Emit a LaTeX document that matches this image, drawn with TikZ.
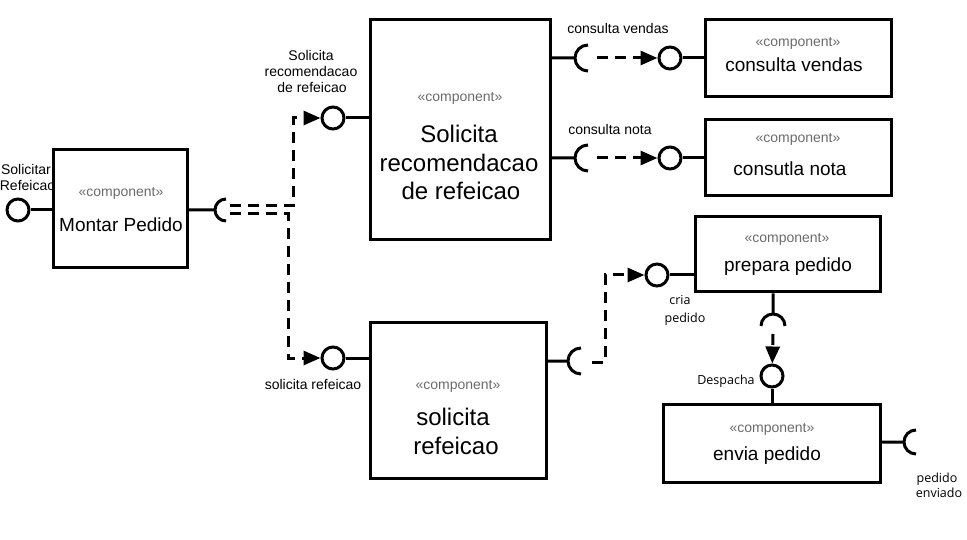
\documentclass[tikz,border=0pt]{standalone}
\usepackage{fontspec}
\setmainfont{Liberation Sans}
\newfontfamily\opensans{Open Sans}
\usetikzlibrary{arrows.meta}
\newlength{\du}
\setlength{\du}{1pt}
\definecolor{dialinecolor}{rgb}{0.000000, 0.000000, 0.000000}
\definecolor{stereocolor}{rgb}{0.420000, 0.420000, 0.420000}

\begin{document}
\begin{tikzpicture}[
  compbox/.style={draw=dialinecolor, line width=3pt, inner sep=0pt},
  lolly/.style={draw=dialinecolor, circle, line width=3pt, minimum size=22pt, inner sep=0pt},
  iface/.style={draw=dialinecolor, line width=3pt},
  dep/.style={draw=dialinecolor, line width=3pt, dash pattern=on 11pt off 7pt,
    -{Triangle[length=17pt,width=14pt]}},
  stereo/.style={anchor=base, text=stereocolor, font=\fontsize{14pt}{16pt}\selectfont},
  cname/.style={anchor=base, font=\fontsize{19pt}{22pt}\selectfont},
  bigname/.style={anchor=base, font=\fontsize{24pt}{28pt}\selectfont},
  lbl/.style={anchor=base, font=\fontsize{14pt}{16pt}\selectfont},
  olbl/.style={anchor=base, font=\opensans\fontsize{12.5pt}{15pt}\selectfont}
]
\pgftransformxscale{1.000000}
\pgftransformyscale{-1.000000}
\useasboundingbox (0\du,0\du) rectangle (967\du,540\du);
% components
\node[compbox, minimum width=134pt, minimum height=118pt] (montar) at (120\du,209\du) {};
\node[compbox, minimum width=180pt, minimum height=220pt] (recom) at (460\du,130\du) {};
\node[compbox, minimum width=186pt, minimum height=77pt] (vendas) at (798\du,58.5\du) {};
\node[compbox, minimum width=186pt, minimum height=76pt] (nota) at (798\du,158\du) {};
\node[compbox, minimum width=185pt, minimum height=75pt] (prepara) at (787.5\du,254.5\du) {};
\node[compbox, minimum width=176pt, minimum height=156pt] (solref) at (458\du,400\du) {};
\node[compbox, minimum width=217pt, minimum height=78pt] (envia) at (771.5\du,443\du) {};
% texts in components
\node[stereo] (montarSt) at (121\du,197\du) {«component»};
\node[cname] (montarName) at (121\du,232\du) {Montar Pedido};
\node[stereo] (recomSt) at (460\du,102\du) {«component»};
\node[bigname] (recomNameA) at (459\du,143\du) {Solicita};
\node[bigname] (recomNameB) at (459\du,172\du) {recomendacao};
\node[bigname] (recomNameC) at (461\du,200\du) {de refeicao};
\node[stereo] (vendasSt) at (798\du,47\du) {«component»};
\node[cname] (vendasName) at (794\du,72\du) {consulta vendas};
\node[stereo] (notaSt) at (798\du,143\du) {«component»};
\node[cname] (notaName) at (790\du,176\du) {consutla nota};
\node[stereo] (preparaSt) at (787\du,243\du) {«component»};
\node[cname] (preparaName) at (788\du,272\du) {prepara pedido};
\node[stereo] (solrefSt) at (458\du,389\du) {«component»};
\node[bigname] (solrefNameA) at (453\du,425\du) {solicita};
\node[bigname] (solrefNameB) at (456\du,454\du) {refeicao};
\node[stereo] (enviaSt) at (772\du,432\du) {«component»};
\node[cname] (enviaName) at (767\du,460\du) {envia pedido};
% provided interfaces
\node[lolly] (lolMontar) at (18\du,210\du) {};
\node[lolly] (lolRecom) at (333\du,118\du) {};
\node[lolly] (lolSolref) at (333\du,358\du) {};
\node[lolly] (lolVendas) at (670\du,58\du) {};
\node[lolly] (lolNota) at (670\du,158\du) {};
\node[lolly] (lolPrepara) at (657\du,275\du) {};
\node[lolly] (lolEnvia) at (772\du,376\du) {};
\draw[iface] (lolMontar) -- (lolMontar -| montar.west);
\draw[iface] (lolRecom) -- (lolRecom -| recom.west);
\draw[iface] (lolSolref) -- (lolSolref -| solref.west);
\draw[iface] (lolVendas) -- (lolVendas -| vendas.west);
\draw[iface] (lolNota) -- (lolNota -| nota.west);
\draw[iface] (lolPrepara) -- (lolPrepara -| prepara.west);
\draw[iface] (lolEnvia) -- (lolEnvia |- envia.north);
% required interfaces
\coordinate (sockMontar) at (215\du,210\du);
\coordinate (sockVendas) at (575\du,58\du);
\coordinate (sockNota) at (575\du,158\du);
\coordinate (sockSolref) at (568\du,361\du);
\coordinate (sockPrepara) at (773\du,314\du);
\coordinate (sockEnvia) at (904\du,442\du);
\draw[iface] (montar.east |- sockMontar) -- (sockMontar) ++(11\du,11\du) arc[start angle=90,end angle=270,radius=11\du];
\draw[iface] (recom.east |- sockVendas) -- (sockVendas) ++(13\du,13\du) arc[start angle=90,end angle=270,radius=13\du];
\draw[iface] (recom.east |- sockNota) -- (sockNota) ++(13\du,13\du) arc[start angle=90,end angle=270,radius=13\du];
\draw[iface] (solref.east |- sockSolref) -- (sockSolref) ++(13\du,13\du) arc[start angle=90,end angle=270,radius=13\du];
\draw[iface] (prepara.south -| sockPrepara) -- (sockPrepara) ++(-12\du,12\du) arc[start angle=180,end angle=360,radius=12\du];
\draw[iface] (envia.east |- sockEnvia) -- (sockEnvia) ++(12\du,12\du) arc[start angle=90,end angle=270,radius=12\du];
% dependencies
\coordinate (depMontarA) at (230\du,206\du);
\coordinate (depMontarB) at (230\du,214\du);
\coordinate (bendRecom) at (293\du,118\du);
\coordinate (bendSolref) at (288\du,358\du);
\coordinate (depVendas) at (597\du,58\du);
\coordinate (depNota) at (597\du,158\du);
\coordinate (depSolref) at (592\du,362\du);
\coordinate (bendPrepara) at (605\du,275\du);
\coordinate (depPrepara) at (773\du,334\du);
\draw[dep] (depMontarA) -| (bendRecom) -- (lolRecom);
\draw[dep] (depMontarB) -| (bendSolref) -- (lolSolref);
\draw[dep] (depVendas) -- (lolVendas);
\draw[dep] (depNota) -- (lolNota);
\draw[dep] (depSolref) -| (bendPrepara) -- (lolPrepara);
\draw[dep] (depPrepara) -- (lolEnvia);
% interface labels
\node[lbl] (lblMontarA) at (26\du,175\du) {Solicitar};
\node[lbl] (lblMontarB) at (27.5\du,191\du) {Refeicao};
\node[lbl] (lblRecomA) at (311\du,61\du) {Solicita};
\node[lbl] (lblRecomB) at (311\du,77\du) {recomendacao};
\node[lbl] (lblRecomC) at (312\du,93\du) {de refeicao};
\node[lbl] (lblSolref) at (313\du,389\du) {solicita refeicao};
\node[lbl] (lblVendas) at (618\du,34\du) {consulta vendas};
\node[lbl] (lblNota) at (610\du,135\du) {consulta nota};
\node[olbl] (lblPreparaA) at (680\du,305\du) {cria};
\node[olbl] (lblPreparaB) at (685\du,322\du) {pedido};
\node[olbl] (lblEnvia) at (726\du,384\du) {Despacha};
\node[olbl] (lblSaidaA) at (937\du,482\du) {pedido};
\node[olbl] (lblSaidaB) at (939\du,497\du) {enviado};
\end{tikzpicture}
\end{document}
